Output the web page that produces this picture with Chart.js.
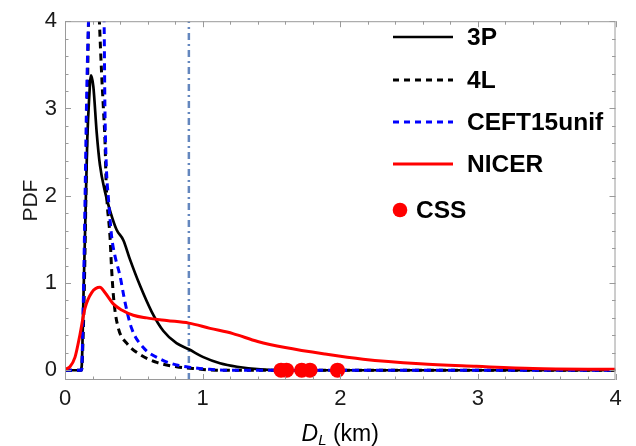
<!DOCTYPE html>
<html>
<head>
<meta charset="utf-8">
<script src="https://cdn.jsdelivr.net/npm/chart.js@4.4.1/dist/chart.umd.min.js"></script>
<style>
  body { margin: 0; background: #fff; }
  #wrap { width: 636px; height: 446px; }
</style>
</head>
<body>
<div id="wrap"><canvas id="pdfChart" width="636" height="446"></canvas></div>
<script>
// valores (D_L en km, PDF)
const dl3P  = [0, 0.11, 0.121, 0.135, 0.145, 0.162, 0.175, 0.189, 0.206, 0.23, 0.254, 0.29, 0.327, 0.375, 0.424, 0.472, 0.545, 0.63, 0.715, 0.81, 0.9, 1.005, 1.126, 1.25, 1.42, 1.6, 4];
const pdf3P = [0, 0, 0.04, 0.9, 1.53, 2.65, 3.1, 3.38, 3.25, 2.73, 2.35, 2.05, 1.83, 1.61, 1.49, 1.27, 0.97, 0.67, 0.45, 0.31, 0.24, 0.15, 0.08, 0.04, 0.01, 0, 0];

const dl4L  = [0, 0.12, 0.13, 0.14, 0.15, 0.16, 0.17, 0.2, 0.23, 0.25, 0.266, 0.279, 0.29, 0.3, 0.327, 0.339, 0.356, 0.388, 0.448, 0.545, 0.666, 0.81, 0.93, 1.1, 4];
const pdf4L = [0, 0, 0.3, 0.9, 1.8, 2.8, 3.9, 5.5, 4.9, 4.0, 3.4, 3.0, 2.65, 2.1, 1.53, 1.15, 0.78, 0.48, 0.31, 0.18, 0.09, 0.04, 0.02, 0, 0];

const dlCEFT  = [0, 0.12, 0.133, 0.145, 0.158, 0.175, 0.21, 0.25, 0.284, 0.29, 0.3, 0.315, 0.339, 0.363, 0.4, 0.436, 0.484, 0.569, 0.69, 0.81, 0.93, 1.05, 1.2, 4];
const pdfCEFT = [0, 0, 0.78, 1.9, 3.2, 4.2, 5.3, 5.0, 4.0, 3.02, 2.35, 1.98, 1.53, 1.31, 1.08, 0.78, 0.48, 0.26, 0.13, 0.06, 0.03, 0.01, 0, 0];

const dlNICER  = [0, 0.036, 0.073, 0.109, 0.145, 0.194, 0.254, 0.29, 0.351, 0.412, 0.496, 0.594, 0.739, 0.9, 1.054, 1.22, 1.4, 1.6, 1.89, 2.166, 2.58, 2.99, 3.4, 4];
const pdfNICER = [0.01, 0.04, 0.15, 0.41, 0.71, 0.89, 0.95, 0.89, 0.76, 0.69, 0.63, 0.6, 0.57, 0.54, 0.48, 0.42, 0.33, 0.26, 0.185, 0.126, 0.074, 0.045, 0.02, 0.01];

const dlCSS  = [1.57, 1.61, 1.72, 1.78, 1.98];
const pdfCSS = [0, 0, 0, 0, 0];

const refDL = 0.9;

const xTicks = [0, 1, 2, 3, 4];
const yTicks = [0, 1, 2, 3, 4];
const xMin = 0, xMax = 4;
const yMin = -0.112, yMax = 4;

function toPoints(xs, ys) {
    return xs.map((x, i) => ({ x: x, y: ys[i] }));
}

const FONT = '"Liberation Sans", Arial, sans-serif';

// marco con marcas hacia dentro, como en Mathematica
const framePlugin = {
    id: 'frame',
    afterDatasetsDraw(chart) {
        const { ctx, chartArea: a, scales: { x, y } } = chart;
        ctx.save();
        ctx.strokeStyle = '#9a9a9a';
        ctx.lineWidth = 1;
        ctx.strokeRect(a.left + 0.5, a.top + 0.5, a.right - a.left - 1, a.bottom - a.top - 1);
        ctx.beginPath();
        for (let v = 0; v <= 4.001; v += 0.2) {
            const major = Math.abs(v - Math.round(v)) < 1e-6;
            const len = major ? 6 : 3.5;
            const px = Math.round(x.getPixelForValue(v)) + 0.5;
            ctx.moveTo(px, a.bottom); ctx.lineTo(px, a.bottom - len);
            ctx.moveTo(px, a.top); ctx.lineTo(px, a.top + len);
            const py = Math.round(y.getPixelForValue(v)) + 0.5;
            ctx.moveTo(a.left, py); ctx.lineTo(a.left + len, py);
            ctx.moveTo(a.right, py); ctx.lineTo(a.right - len, py);
        }
        ctx.stroke();
        ctx.restore();
    }
};

// leyenda dentro del area del grafico
const legendPlugin = {
    id: 'legendInside',
    afterDraw(chart) {
        const ctx = chart.ctx;
        const rows = [37, 80, 122, 164, 210];
        ctx.save();
        ctx.font = 'bold 24.5px ' + FONT;
        ctx.textBaseline = 'middle';
        let i = 0;
        chart.data.datasets.forEach(ds => {
            if (!ds.label) return;
            const yy = rows[i++];
            if (ds.showLine === false) {
                ctx.fillStyle = ds.backgroundColor;
                ctx.beginPath();
                ctx.arc(400, yy, 7.3, 0, Math.PI * 2);
                ctx.fill();
                ctx.fillStyle = '#000';
                ctx.fillText(ds.label, 416, yy + 1);
            } else {
                ctx.strokeStyle = ds.borderColor;
                ctx.lineWidth = ds.borderWidth;
                ctx.setLineDash(ds.borderDash ? [6, 5] : []);
                ctx.beginPath();
                ctx.moveTo(393, yy);
                ctx.lineTo(453, yy);
                ctx.stroke();
                ctx.setLineDash([]);
                ctx.fillStyle = '#000';
                ctx.fillText(ds.label, 467, yy + 1);
            }
        });
        ctx.restore();
    }
};

// titulo del eje x: D_L (km) con subindice
const xTitlePlugin = {
    id: 'xTitle',
    afterDraw(chart) {
        const { ctx, chartArea: a } = chart;
        const base = 441;
        ctx.save();
        ctx.fillStyle = '#000';
        ctx.textBaseline = 'alphabetic';
        const fD = 'italic 23px ' + FONT, fL = 'italic 15px ' + FONT, fK = '23px ' + FONT;
        ctx.font = fD; const wD = ctx.measureText('D').width;
        ctx.font = fL; const wL = ctx.measureText('L').width;
        ctx.font = fK; const wK = ctx.measureText(' (km)').width;
        let x0 = (a.left + a.right) / 2 - (wD + wL + wK) / 2;
        ctx.font = fD; ctx.fillText('D', x0, base); x0 += wD;
        ctx.font = fL; ctx.fillText('L', x0, base + 4); x0 += wL;
        ctx.font = fK; ctx.fillText(' (km)', x0, base);
        ctx.restore();
    }
};

const lineBase = { showLine: true, pointRadius: 0, cubicInterpolationMode: 'monotone', fill: false, clip: 0 };

const ctx = document.getElementById('pdfChart').getContext('2d');
new Chart(ctx, {
    type: 'scatter',
    data: {
        datasets: [
            Object.assign({ label: '3P', data: toPoints(dl3P, pdf3P), borderColor: '#000000', borderWidth: 2.7, order: 4 }, lineBase),
            Object.assign({ label: '4L', data: toPoints(dl4L, pdf4L), borderColor: '#000000', borderWidth: 3, borderDash: [7, 5], order: 3 }, lineBase),
            Object.assign({ label: 'CEFT15unif', data: toPoints(dlCEFT, pdfCEFT), borderColor: '#0000ff', borderWidth: 3, borderDash: [7, 5], order: 2 }, lineBase),
            Object.assign({ label: 'NICER', data: toPoints(dlNICER, pdfNICER), borderColor: '#ff0000', borderWidth: 3, order: 1 }, lineBase),
            { label: 'CSS', data: toPoints(dlCSS, pdfCSS), showLine: false, pointRadius: 7.6, pointBackgroundColor: '#ff0000', backgroundColor: '#ff0000', pointBorderWidth: 0, order: 0, clip: false },
            { label: '', data: [{ x: refDL, y: yMin }, { x: refDL, y: yMax }], showLine: true, pointRadius: 0, borderColor: 'rgb(100,135,190)', borderWidth: 2.5, borderDash: [7, 4, 2, 4], tension: 0, order: 5, clip: 0 }
        ]
    },
    options: {
        responsive: false,
        animation: false,
        layout: { padding: { top: 12.7, right: 20.5, left: 0, bottom: 0 } },
        plugins: {
            legend: { display: false },
            tooltip: { enabled: false }
        },
        scales: {
            x: {
                type: 'linear',
                min: xMin,
                max: xMax,
                afterBuildTicks: s => { s.ticks = xTicks.map(v => ({ value: v })); },
                afterFit: s => { s.height = 66; },
                grid: { display: false, drawTicks: false },
                border: { display: false },
                ticks: { padding: 6, color: '#1a1a1a', font: { family: FONT, size: 22 }, maxRotation: 0 }
            },
            y: {
                type: 'linear',
                min: yMin,
                max: yMax,
                afterBuildTicks: s => { s.ticks = yTicks.map(v => ({ value: v })); },
                afterFit: s => { s.width = 65; },
                grid: { display: false, drawTicks: false },
                border: { display: false },
                ticks: { padding: 8, color: '#1a1a1a', font: { family: FONT, size: 22 } },
                title: { display: true, text: 'PDF', color: '#1a1a1a', font: { family: FONT, size: 21 }, padding: { top: 19, bottom: 0 } }
            }
        }
    },
    plugins: [framePlugin, legendPlugin, xTitlePlugin]
});
</script>
</body>
</html>
